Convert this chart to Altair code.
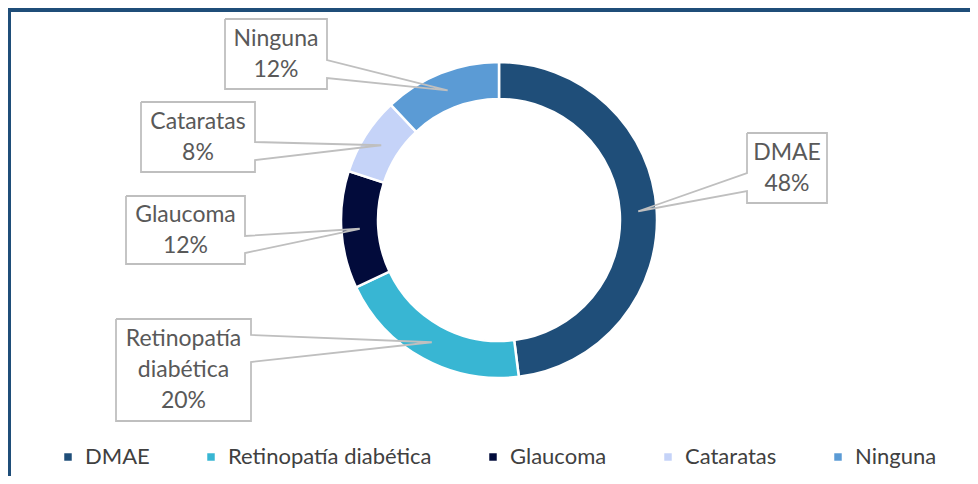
import altair as alt
import pandas as pd
import numpy as np

# ---- data ----
categories = ["DMAE", "Retinopatía diabética", "Glaucoma", "Cataratas", "Ninguna"]
values = [48, 20, 12, 8, 12]
colors = ["#1F4E79", "#38B6D3", "#020B3B", "#C5D3F8", "#5B9BD5"]

# ---- layout (page pixels) ----
CX, CY = 499, 220
R_OUT, R_IN = 158, 121
box_left = [747, 116, 126, 141, 225]
box_right = [827, 251, 245, 255, 327]
box_top = [133, 319, 196, 102, 19]
box_bottom = [203, 421, 264, 172, 89]
ptr_y1 = [173, 335, 236, 142, 60]
ptr_y2 = [191, 362, 253, 160, 78]
LINE_H = 31

W, H = 962, 468
GRAY = "#BFBFBF"

df = pd.DataFrame({"cat": categories, "value": values, "idx": range(len(values))})

# anchor points at slice mid-angle, middle of ring
total = sum(values)
cum = np.cumsum([0] + values[:-1])
mid = [(c + v / 2) / total * 2 * np.pi for c, v in zip(cum, values)]
r_mid = (R_OUT + R_IN) / 2
ax = [CX + r_mid * np.sin(a) for a in mid]
ay = [CY - r_mid * np.cos(a) for a in mid]

# callout outlines
rows = []
for i, cat in enumerate(categories):
    L, R, T, B = box_left[i], box_right[i], box_top[i], box_bottom[i]
    if ax[i] > R:
        pts = [(L, T), (R, T), (R, ptr_y1[i]), (ax[i], ay[i]), (R, ptr_y2[i]), (R, B), (L, B), (L, T)]
    else:
        pts = [(L, T), (R, T), (R, B), (L, B), (L, ptr_y2[i]), (ax[i], ay[i]), (L, ptr_y1[i]), (L, T)]
    for k, (px, py) in enumerate(pts):
        rows.append({"cat": cat, "x": px, "y": py, "ord": k})
lines_df = pd.DataFrame(rows)

labels = [c.replace(" ", "\n") + "\n" + f"{v}%" for c, v in zip(categories, values)]
n_lines = [lab.count("\n") + 1 for lab in labels]
box_df = pd.DataFrame({
    "cat": categories,
    "x": box_left, "x2": box_right, "y": box_top, "y2": box_bottom,
    "tx": [(l + r) / 2 for l, r in zip(box_left, box_right)],
    "ty": [(t + b) / 2 - (n - 1) * LINE_H / 2 for t, b, n in zip(box_top, box_bottom, n_lines)],
    "label": labels,
})

xs = alt.Scale(domain=[8, 8 + W], nice=False, zero=False)
ys = alt.Scale(domain=[8, 8 + H], nice=False, zero=False, reverse=True)

ring = alt.Chart(df).mark_arc(
    innerRadius=R_IN, outerRadius=R_OUT, stroke="white", strokeWidth=2.5
).encode(
    theta=alt.Theta("value:Q", stack=True),
    order=alt.Order("idx:Q"),
    color=alt.Color(
        "cat:N",
        scale=alt.Scale(domain=categories, range=colors),
        sort=categories,
        legend=alt.Legend(
            title=None, orient="none", direction="horizontal",
            legendX=49, legendY=438,
            symbolType="square", symbolSize=56, symbolStrokeWidth=0,
            labelFont="Lato", labelFontSize=22, labelColor="#404040",
            labelOffset=6, columnPadding=50, labelLimit=0,
        ),
    ),
    x=alt.value(CX - 8),
    y=alt.value(CY - 8),
)

boxes = alt.Chart(box_df).mark_rect(fill="white").encode(
    x=alt.X("x:Q", scale=xs, axis=None), x2="x2:Q",
    y=alt.Y("y:Q", scale=ys, axis=None), y2="y2:Q",
)

callouts = alt.Chart(lines_df).mark_line(color=GRAY, strokeWidth=1.8).encode(
    x=alt.X("x:Q", scale=xs, axis=None),
    y=alt.Y("y:Q", scale=ys, axis=None),
    detail="cat:N",
    order="ord:Q",
)

texts = alt.Chart(box_df).mark_text(
    font="Lato", fontSize=23, color="#595959", lineBreak="\n", lineHeight=LINE_H,
    align="center", baseline="middle",
).encode(
    x=alt.X("tx:Q", scale=xs, axis=None),
    y=alt.Y("ty:Q", scale=ys, axis=None),
    text="label:N",
)

border_top = alt.Chart(df).mark_rule(color="#1F4E79", strokeWidth=4).encode(
    x=alt.value(0), x2=alt.value(W), y=alt.value(2)
)
border_left = alt.Chart(df).mark_rule(color="#1F4E79", strokeWidth=3).encode(
    x=alt.value(1.5), y=alt.value(0), y2=alt.value(H)
)

chart = alt.layer(ring, boxes, callouts, texts, border_top, border_left).properties(
    width=W, height=H, autosize=alt.AutoSizeParams(type="none"), padding=0,
).configure_view(stroke=None).configure(background="white")

chart.save("out.html", embed_options={"renderer": "svg", "actions": False})
